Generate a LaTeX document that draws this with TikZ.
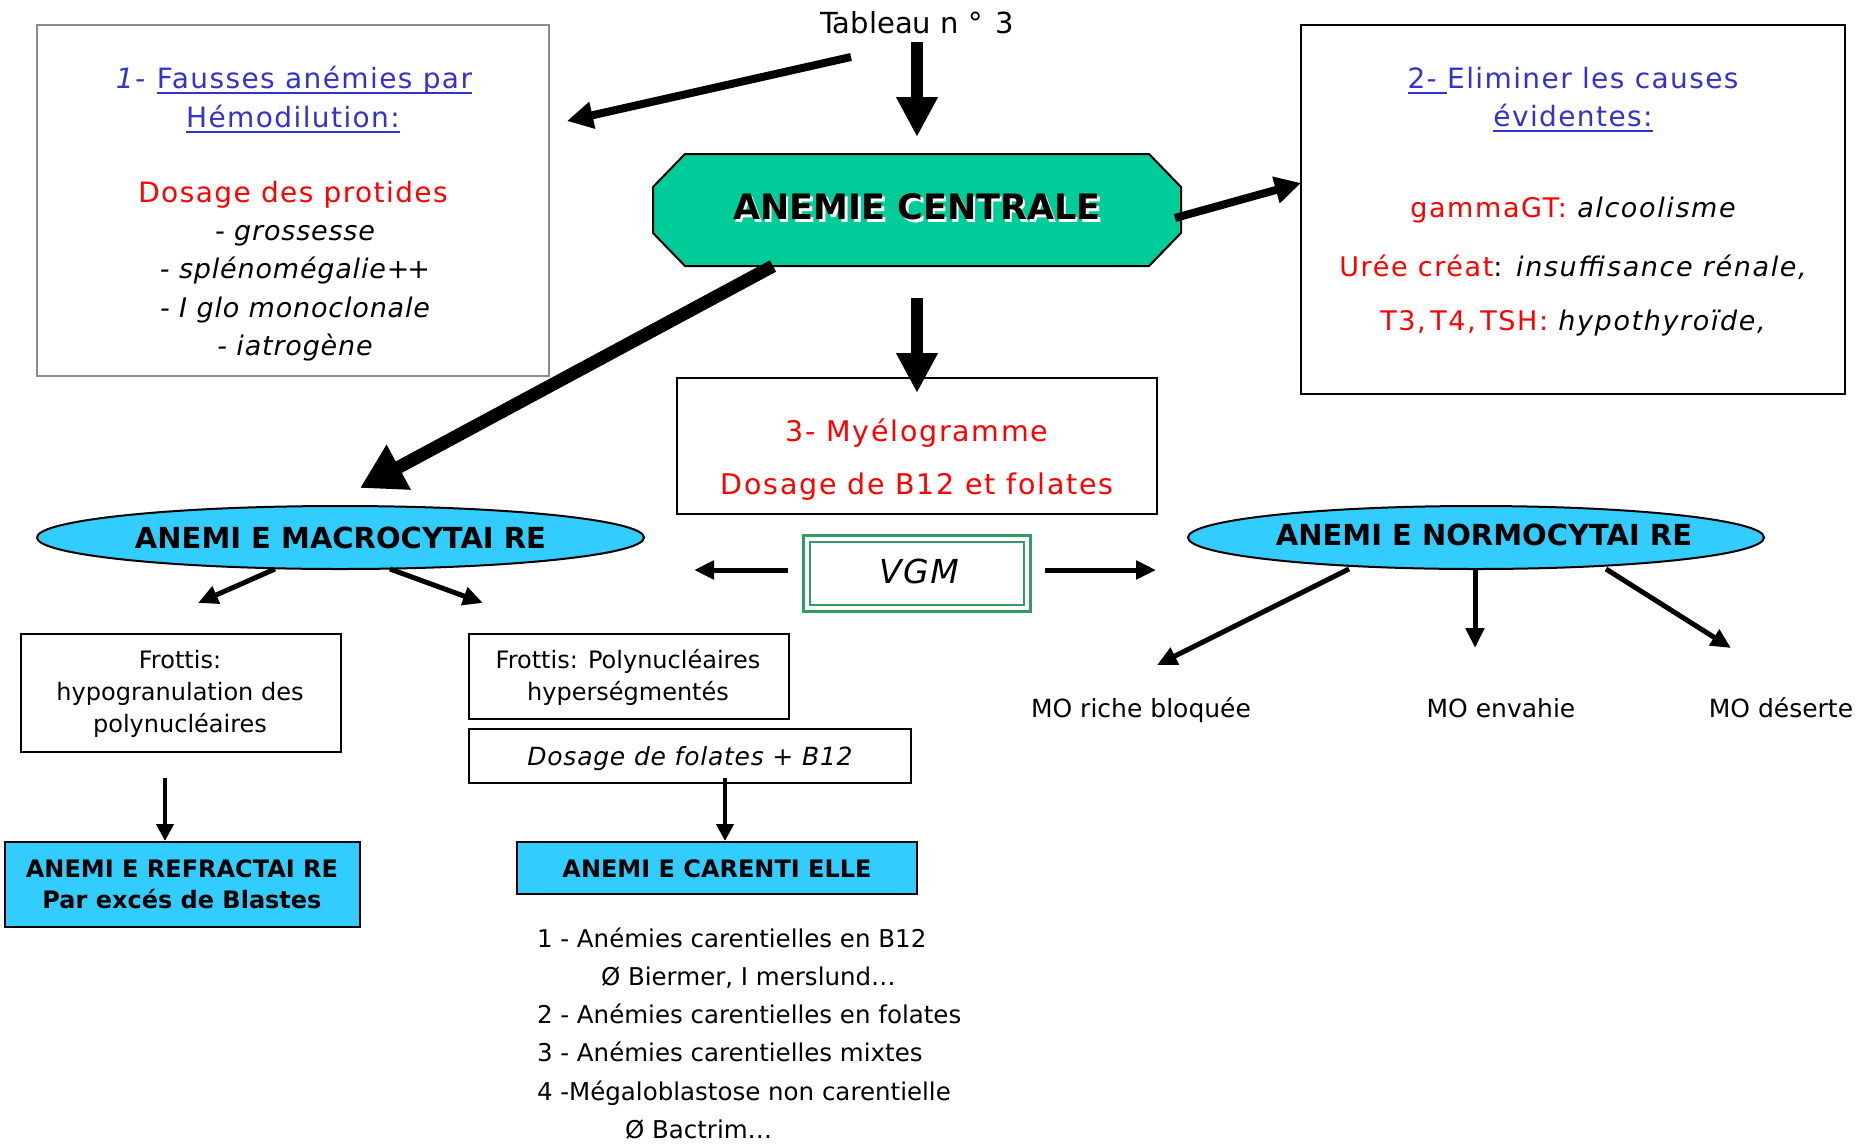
\documentclass[tikz,border=0pt]{standalone}
\usepackage{fontspec}
\setmainfont{DejaVu Sans}
\newfontfamily\trkA[LetterSpace=5]{DejaVu Sans}
\newfontfamily\trkB[LetterSpace=6]{DejaVu Sans}
\newfontfamily\trkC[LetterSpace=3]{DejaVu Sans}
\newfontfamily\trkD[LetterSpace=6]{DejaVu Sans}
\usetikzlibrary{arrows.meta,shapes.geometric}

\definecolor{cenfill}{HTML}{00CC99}
\definecolor{skyfill}{HTML}{33CCFF}
\definecolor{titleblue}{HTML}{3333CC}
\definecolor{alertred}{HTML}{FF0000}
\definecolor{vgmgreen}{HTML}{339966}
\definecolor{boxgray}{HTML}{8C8C8C}

\newcommand\setfs[1]{\fontsize{#1pt}{#1pt}\selectfont}
\newcommand\myul[1]{\leavevmode\setbox0\hbox{#1}\rlap{\raisebox{-6pt}{\rule{\wd0}{1.8pt}}}\box0}

\tikzset{
  txt/.style={inner sep=0pt, outer sep=0pt, anchor=base},
  panel/.style={draw, line width=2pt, inner sep=0pt, outer sep=0pt, anchor=north west},
  bluepanel/.style={panel, line width=1.5pt, fill=skyfill},
  oval/.style={ellipse, draw, line width=2pt, fill=skyfill, inner sep=0pt, outer sep=0pt},
  bigarrow/.style={line width=12pt, -{Triangle[length=40pt,width=39pt]}},
  hugearrow/.style={line width=13pt, -{Triangle[length=44pt,width=48pt]}},
  midarrow/.style={line width=8pt, -{Triangle[length=26pt,width=26pt]}},
  smallarrow/.style={line width=5pt, -{Triangle[length=20pt,width=18pt]}},
  tinyarrow/.style={line width=4.5pt, -{Triangle[length=17pt,width=17pt]}},
}

\begin{document}
\begin{tikzpicture}[x=1pt,y=-1pt]
\fill[white] (0,0) rectangle (1868,1146);
\useasboundingbox (0,0) rectangle (1868,1146);

% ---------- title
\node[txt] (tableau) at (917,33) {\setfs{29}Tableau n °\hspace{0.45em}3};

% ---------- panel 1 : fausses anemies
\node[panel, draw=boxgray, minimum width=512pt, minimum height=351pt] (hemodil) at (37,25) {};
\node[txt] (hemoA) at (294,88) {\setfs{28}\trkA\color{titleblue}\textit{1-} \myul{Fausses anémies par}};
\node[txt] (hemoB) at (293,127) {\setfs{28}\trkA\color{titleblue}\myul{Hémodilution:}};
\node[txt] (hemoC) at (293,202) {\setfs{28}\trkA\color{alertred}Dosage des protides};
\node[txt] (hemoD) at (295,240) {\setfs{27}\trkC\itshape - grossesse};
\node[txt] (hemoE) at (295,278) {\setfs{27}\trkC\itshape - splénomégalie+\kern-2pt+};
\node[txt] (hemoF) at (295,317) {\setfs{27}\trkC\itshape - I glo monoclonale};
\node[txt] (hemoG) at (295,355) {\setfs{27}\trkC\itshape - iatrogène};

% ---------- panel 2 : causes evidentes
\node[panel, line width=2.5pt, minimum width=544pt, minimum height=369pt] (causes) at (1301,25) {};
\node[txt] (causA) at (1573,88) {\setfs{28}\trkA\color{titleblue}\myul{2-\ }Eliminer les causes};
\node[txt] (causB) at (1573,126) {\setfs{28}\trkA\color{titleblue}\myul{évidentes:}};
\node[txt] (causC) at (1573,217) {\setfs{27}\trkD{\color{alertred}gammaGT:} \itshape alcoolisme};
\node[txt] (causD) at (1573,276) {\setfs{27}\trkD{\color{alertred}Urée créat}: \itshape insuffisance rénale,};
\node[txt] (causE) at (1573,330) {\setfs{27}\trkD{\color{alertred}T3,\,T4,\,TSH:} \itshape hypothyroïde,};

% ---------- central octagon
\draw[line width=2pt, fill=cenfill]
  (685,154) -- (1149,154) -- (1181,187) -- (1181,233) -- (1149,266)
  -- (685,266) -- (653,233) -- (653,187) -- cycle;
\node[txt, white] (centralglow) at (919.5,222) {\setfs{35}\bfseries ANEMIE CENTRALE};
\node[txt] (central) at (917,219) {\setfs{35}\bfseries ANEMIE CENTRALE};

% ---------- myelogramme
\node[panel, minimum width=480pt, minimum height=136pt] (myelo) at (677,378) {};
\node[txt] (myeloA) at (917,441) {\setfs{28.5}\trkB\color{alertred}3- Myélogramme};
\node[txt] (myeloB) at (917,494) {\setfs{28.5}\trkB\color{alertred}Dosage de B12 et folates};

% ---------- VGM
\node[draw=vgmgreen, line width=3pt, inner sep=0pt, outer sep=0pt, anchor=north west,
      minimum width=227pt, minimum height=76pt] (vgm) at (803.5,535.5) {};
\node[draw=vgmgreen, line width=2.5pt, inner sep=0pt, outer sep=0pt, anchor=north west,
      minimum width=214pt, minimum height=63pt] (vgminner) at (810,542) {};
\node[txt] (vgmtext) at (919,583) {\setfs{33}\trkA\itshape VGM};

% ---------- ellipses
\node[oval, minimum width=607pt, minimum height=63pt] (macro) at (340.5,537.5) {};
\node[txt] (macrotext) at (340.5,548) {\setfs{29}\bfseries ANEMI E MACROCYTAI RE};
\node[oval, minimum width=576pt, minimum height=63pt] (normo) at (1476,537.5) {};
\node[txt] (normotext) at (1484,545) {\setfs{29}\bfseries ANEMI E NORMOCYTAI RE};

% ---------- macrocytic branch
\node[panel, minimum width=320pt, minimum height=118pt] (frotA) at (21,634) {};
\node[txt] (frotAa) at (180,668) {\setfs{24}Frottis:};
\node[txt] (frotAb) at (180,700) {\setfs{24}hypogranulation des};
\node[txt] (frotAc) at (180,732) {\setfs{24}polynucléaires};

\node[panel, minimum width=320pt, minimum height=85pt] (frotB) at (469,634) {};
\node[txt] (frotBa) at (628,668) {\setfs{24}Frottis: Polynucléaires};
\node[txt] (frotBb) at (628,700) {\setfs{24}hyperségmentés};

\node[panel, minimum width=442pt, minimum height=54pt] (dosage) at (469,729) {};
\node[txt] (dosagetext) at (690,765) {\setfs{25}\trkC\itshape Dosage de folates + B12};

\node[bluepanel, minimum width=355pt, minimum height=85pt] (refract) at (5,842) {};
\node[txt] (refractA) at (182,877) {\setfs{24}\bfseries ANEMI E REFRACTAI RE};
\node[txt] (refractB) at (182,908) {\setfs{24}\bfseries Par excés de Blastes};

\node[bluepanel, minimum width=400pt, minimum height=52pt] (carent) at (517,842) {};
\node[txt] (carenttext) at (717,877) {\setfs{24}\bfseries ANEMI E CARENTI ELLE};

% ---------- list of deficiency anaemias
\begin{scope}[every node/.style={txt, anchor=base west}]
\node (listA) at (537,947) {\setfs{24.5}1 - Anémies carentielles en B12};
\node (listB) at (601,985) {\setfs{24.5}Ø Biermer, I merslund…};
\node (listC) at (537,1023) {\setfs{24.5}2 - Anémies carentielles en folates};
\node (listD) at (537,1061) {\setfs{24.5}3 - Anémies carentielles mixtes};
\node (listE) at (537,1100) {\setfs{24.5}4 -Mégaloblastose non carentielle};
\node (listF) at (625,1138) {\setfs{24.5}Ø Bactrim…};
\end{scope}

% ---------- normocytic outcomes
\node[txt] (moA) at (1141,717) {\setfs{25}MO riche bloquée};
\node[txt] (moB) at (1501,717) {\setfs{25}MO envahie};
\node[txt] (moC) at (1781,717) {\setfs{25}MO déserte};

% ---------- connector end points
\coordinate (tabL) at (851,57);      \coordinate (hemodilTip) at (567,121);
\coordinate (tabD) at (917,42);      \coordinate (centralTip) at (917,137);
\coordinate (cenR) at (1175,218);    \coordinate (causesTip) at (1301,183);
\coordinate (cenB) at (917,298);     \coordinate (myeloTip) at (917,393);
\coordinate (cenBL) at (773,266);    \coordinate (macroTip) at (360,488);
\coordinate (vgmL) at (788,570);     \coordinate (vgmLTip) at (694,570);
\coordinate (vgmR) at (1045,570);    \coordinate (vgmRTip) at (1156,570);
\coordinate (macroA) at (275,569);   \coordinate (frotATip) at (198,603);
\coordinate (macroB) at (390,569);   \coordinate (frotBTip) at (483,603);
\coordinate (frotAdown) at (165,778); \coordinate (refractTip) at (165,841);
\coordinate (dosDown) at (725,778);  \coordinate (carentTip) at (725,841);
\coordinate (normoA) at (1349,569);  \coordinate (moATip) at (1157,665);
\coordinate (normoB) at (1475,569);  \coordinate (moBTip) at (1475,648);
\coordinate (normoC) at (1606,569);  \coordinate (moCTip) at (1731,648);

% ---------- connectors
\draw[midarrow] (tabL) -- (hemodilTip);
\draw[bigarrow] (tabD) -- (centralTip);
\draw[midarrow] (cenR) -- (causesTip);
\draw[bigarrow] (cenB) -- (myeloTip);
\draw[hugearrow] (cenBL) -- (macroTip);
\draw[smallarrow] (vgmL) -- (vgmLTip);
\draw[smallarrow] (vgmR) -- (vgmRTip);
\draw[smallarrow] (macroA) -- (frotATip);
\draw[smallarrow] (macroB) -- (frotBTip);
\draw[tinyarrow] (frotAdown) -- (refractTip);
\draw[tinyarrow] (dosDown) -- (carentTip);
\draw[smallarrow] (normoA) -- (moATip);
\draw[smallarrow] (normoB) -- (moBTip);
\draw[smallarrow] (normoC) -- (moCTip);
\end{tikzpicture}
\end{document}
